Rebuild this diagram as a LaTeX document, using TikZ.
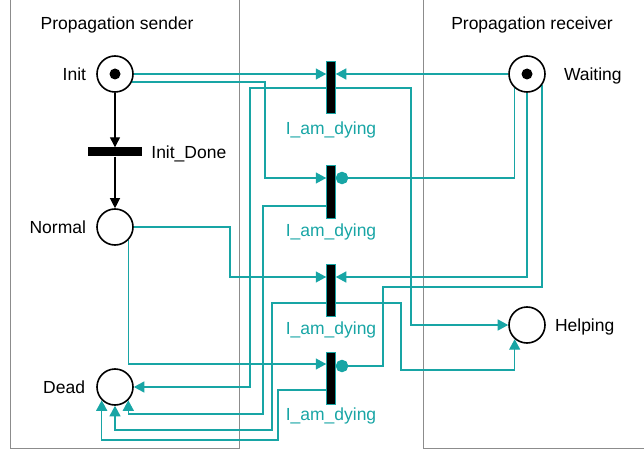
\documentclass[tikz,border=0pt]{standalone}
\usepackage{fontspec}
\setmainfont{Liberation Sans}
\usetikzlibrary{arrows.meta,positioning}
\definecolor{pteal}{RGB}{24,165,165}
\definecolor{boxgray}{RGB}{140,140,140}
\pgfdeclarelayer{bg}
\pgfsetlayers{bg,main}
\begin{document}
\begin{tikzpicture}[x=1pt,y=-1pt,
  font=\fontsize{17.5}{20}\selectfont,
  place/.style={circle,draw=black,line width=1.6pt,minimum size=36pt,inner sep=0pt,fill=white},
  token/.style={circle,fill=black,minimum size=11pt,inner sep=0pt},
  vtrans/.style={rectangle,fill=black,draw=pteal,line width=1pt,minimum width=8.5pt,minimum height=52pt,inner sep=0pt},
  htrans/.style={rectangle,fill=black,minimum width=54pt,minimum height=9pt,inner sep=0pt},
  arc/.style={draw=pteal,line width=1.3pt,-{Triangle[length=10.5pt,width=11pt]}},
  dotarc/.style={draw=pteal,line width=1.3pt,-{Circle[length=12.5pt]}},
  blackarc/.style={draw=black,line width=1.2pt,-{Triangle[length=10pt,width=10pt]}},
  lbl/.style={inner sep=0pt,text height=12.5pt,text depth=0pt},
  tlbl/.style={lbl,text=pteal},
  frame/.style={draw=boxgray,line width=1pt}
]
\useasboundingbox (0,0) rectangle (644,454);

% titles
\node[lbl] (S) at (117,23) {Propagation sender};
\node[lbl] (R) at (532,23) {Propagation receiver};

% places
\node[place] (Init) at (115,74) {};
\node[token] (InitTok) at (Init) {};
\node[lbl,left=10pt of Init] (InitL) {Init};
\node[htrans] (InitDone) at (115,152) {};
\node[lbl,right=9pt of InitDone] (InitDoneL) {Init\_Done};
\node[place] (Normal) at (115,227) {};
\node[lbl,left=10pt of Normal] (NormalL) {Normal};
\node[place] (Dead) at (115,387) {};
\node[lbl,left=11pt of Dead] (DeadL) {Dead};
\node[place] (Waiting) at (527,74) {};
\node[token] (WaitingTok) at (Waiting) {};
\node[lbl,right=18pt of Waiting] (WaitingL) {Waiting};
\node[place] (Helping) at (527,325) {};
\node[lbl,right=9pt of Helping] (HelpingL) {Helping};

% transitions
\node[vtrans] (T1) at (331,88) {};
\node[tlbl,below=7pt of T1] (T1L) {I\_am\_dying};
\node[vtrans] (T2) at (331,192) {};
\node[tlbl,below=5pt of T2] (T2L) {I\_am\_dying};
\node[vtrans] (T3) at (331,290) {};
\node[tlbl,below=5pt of T3] (T3L) {I\_am\_dying};
\node[vtrans] (T4) at (331,378) {};
\node[tlbl,below=3pt of T4] (T4L) {I\_am\_dying};

% bend points
\coordinate (b2) at (265,178);
\coordinate (b4) at (250,387);
\coordinate (b5) at (411,325);
\coordinate (b7a) at (263,206);
\coordinate (b7) at (263,414);
\coordinate (b8) at (230,277);
\coordinate (b10a) at (272,303);
\coordinate (b10) at (272,430);
\coordinate (b11a) at (401,303);
\coordinate (b11) at (401,370);
\coordinate (b12) at (0,364);
\coordinate (b13a) at (383,287);
\coordinate (b13) at (383,366);
\coordinate (b14a) at (278,390);
\coordinate (b14) at (278,440);

\begin{pgfonlayer}{bg}
  \draw[frame] (10,-2) -- (10,448) -- (239,448) -- (239,-2);
  \draw[frame] (423,-2) -- (423,448) -- (646,448);

  \draw[blackarc] (Init) -- (InitDone);
  \draw[blackarc] (InitDone) -- (Normal);

  \draw[arc] (Init.east) -- (Init.east -| T1.west);
  \draw[arc] (Init.-25) -| (b2) -- (b2 -| T2.west);
  \draw[arc] (Waiting.west) -- (Waiting.west -| T1.east);
  \draw[arc] (T1.west) -| (b4) -- (Dead.east);
  \draw[arc] (T1.east) -| (b5) -- (Helping.west);
  \draw[dotarc] (Waiting.-131) |- (b2 -| T2.east);
  \draw[arc] (b7a -| T2.west) -- (b7a) -- (b7) -| (Dead.-45);
  \draw[arc] (Normal.east) -| (b8) -- (b8 -| T3.west);
  \draw[arc] (Waiting.south) |- (b8 -| T3.east);
  \draw[arc] (b10a -| T3.west) -- (b10a) -- (b10) -| (Dead.south);
  \draw[arc] (b11a -| T3.east) -- (b11a) -- (b11) -| (Helping.-131);
  \draw[arc] (Normal.-45) |- (b12 -| T4.west);
  \draw[dotarc] (Waiting.-37) |- (b13a) -- (b13) -- (b13 -| T4.east);
  \draw[arc] (b14a -| T4.west) -- (b14a) -- (b14) -| (Dead.-135);
\end{pgfonlayer}
\end{tikzpicture}
\end{document}
